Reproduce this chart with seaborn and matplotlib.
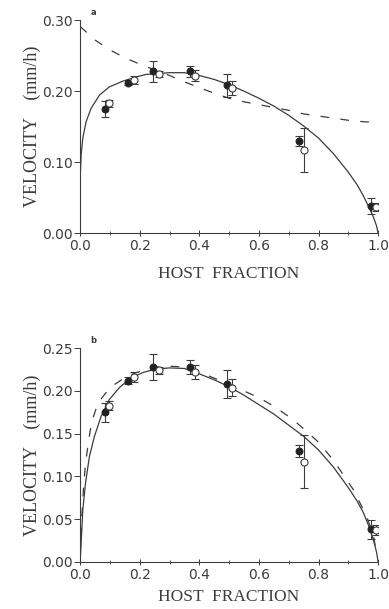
import numpy as np
import pandas as pd
import seaborn as sns
import matplotlib.pyplot as plt
from matplotlib.ticker import MultipleLocator

# measured points (same in both panels)
host_filled = [0.082, 0.162, 0.246, 0.369, 0.492, 0.735, 0.976]
vel_filled = [0.175, 0.212, 0.228, 0.228, 0.208, 0.130, 0.038]
err_filled = [0.011, 0.004, 0.015, 0.008, 0.016, 0.007, 0.011]

host_open = [0.098, 0.182, 0.266, 0.387, 0.508, 0.751, 0.994]
vel_open = [0.183, 0.216, 0.224, 0.222, 0.204, 0.117, 0.037]
err_open = [0.005, 0.006, 0.004, 0.008, 0.010, 0.031, 0.006]

# panel a curves
a_solid_x = [0, 0.0005, 0.0034, 0.009, 0.02, 0.037, 0.065, 0.098, 0.143, 0.188, 0.221,
             0.252, 0.3, 0.35, 0.4, 0.45, 0.5, 0.55, 0.6, 0.65, 0.7, 0.75, 0.8, 0.85,
             0.9, 0.93, 0.95, 0.97, 0.985, 0.995, 1.0]
a_solid_y = [0, 0.082, 0.110, 0.134, 0.157, 0.176, 0.1945, 0.206, 0.214, 0.220, 0.2235,
             0.2245, 0.226, 0.226, 0.222, 0.2165, 0.209, 0.200, 0.190, 0.179, 0.166,
             0.151, 0.134, 0.112, 0.086, 0.068, 0.053, 0.036, 0.022, 0.010, 0.0]
a_dash_x = [0.0, 0.05, 0.1, 0.15, 0.2, 0.25, 0.3, 0.35, 0.4, 0.45, 0.5, 0.55, 0.6,
            0.65, 0.7, 0.75, 0.8, 0.85, 0.9, 0.95, 0.99]
a_dash_y = [0.291, 0.272, 0.258, 0.247, 0.238, 0.230, 0.222, 0.213, 0.205, 0.197, 0.190,
            0.185, 0.181, 0.177, 0.173, 0.168, 0.165, 0.162, 0.159, 0.157, 0.156]

# panel b curves
b_solid_x = [0, 0.0034, 0.009, 0.018, 0.031, 0.048, 0.070, 0.098, 0.132, 0.165, 0.21,
             0.252, 0.3, 0.35, 0.4, 0.45, 0.5, 0.55, 0.6, 0.65, 0.7, 0.75, 0.8, 0.85,
             0.9, 0.93, 0.95, 0.97, 0.985, 0.995, 1.0]
b_solid_y = [0, 0.022, 0.061, 0.092, 0.123, 0.147, 0.170, 0.190, 0.204, 0.214, 0.2215,
             0.2255, 0.227, 0.2263, 0.220, 0.213, 0.205, 0.195, 0.184, 0.173, 0.160,
             0.147, 0.131, 0.111, 0.087, 0.071, 0.058, 0.041, 0.025, 0.011, 0.0]
b_dash_x = [0.003, 0.006, 0.012, 0.018, 0.025, 0.033, 0.04, 0.06, 0.1, 0.16, 0.21, 0.26,
            0.3, 0.35, 0.4, 0.45, 0.5, 0.55, 0.604, 0.66, 0.716, 0.761, 0.8, 0.85, 0.918,
            0.962, 0.985, 0.996]
b_dash_y = [0.03, 0.055, 0.09, 0.115, 0.133, 0.152, 0.165, 0.186, 0.204, 0.218, 0.224, 0.228,
            0.229, 0.228, 0.222, 0.215, 0.208, 0.200, 0.1915, 0.180, 0.166, 0.1525, 0.140,
            0.119, 0.084, 0.053, 0.030, 0.006]

INK = "#3c3c3c"

sns.set_style("ticks")
plt.rcParams["font.family"] = ["DejaVu Sans"]

fig = plt.figure(figsize=(3.89, 6.09), dpi=100)
ax_a = fig.add_axes([0.206, 0.617, 0.766, 0.350])
ax_b = fig.add_axes([0.206, 0.0772, 0.766, 0.351])


def draw_panel(ax, sx, sy, dx, dy, ymax, ystep, letter, xpad):
    sns.lineplot(x=sx, y=sy, ax=ax, color=INK, lw=0.9, estimator=None, sort=False)
    sns.lineplot(x=dx, y=dy, ax=ax, color=INK, lw=0.9, estimator=None, sort=False)
    ax.lines[-1].set_dashes([7, 9])
    ax.errorbar(host_filled, vel_filled, yerr=err_filled, fmt="none", ecolor=INK,
                elinewidth=0.8, capsize=3, capthick=0.8, zorder=3)
    ax.errorbar(host_open, vel_open, yerr=err_open, fmt="none", ecolor=INK,
                elinewidth=0.8, capsize=3, capthick=0.8, zorder=3)
    sns.scatterplot(x=host_filled, y=vel_filled, ax=ax, color="#222222", s=26,
                    edgecolor="#222222", linewidth=0.6, zorder=4)
    sns.scatterplot(x=host_open, y=vel_open, ax=ax, color="white", s=26,
                    edgecolor=INK, linewidth=0.8, zorder=4)

    ax.set_xlim(0, 1.0)
    ax.set_ylim(0, ymax)
    ax.xaxis.set_major_locator(MultipleLocator(0.2))
    ax.xaxis.set_minor_locator(MultipleLocator(0.1))
    ax.yaxis.set_major_locator(MultipleLocator(ystep))
    ax.xaxis.set_major_formatter(plt.FuncFormatter(lambda v, p: f"{v:.1f}"))
    ax.yaxis.set_major_formatter(plt.FuncFormatter(lambda v, p: f"{v:.2f}"))
    ax.tick_params(axis="x", direction="inout", length=5, width=0.7, colors=INK,
                   labelsize=10, pad=2)
    ax.tick_params(axis="x", which="minor", direction="inout", length=3, width=0.6,
                   colors=INK)
    ax.tick_params(axis="y", direction="out", length=4, width=0.7, colors=INK,
                   labelsize=10, pad=1)
    for s in ["left", "bottom"]:
        ax.spines[s].set_color(INK)
        ax.spines[s].set_linewidth(0.8)
    sns.despine(ax=ax)
    ax.set_xlabel("HOST  FRACTION", family="Liberation Serif", fontsize=12.5,
                  color=INK, labelpad=xpad)
    ax.set_ylabel("VELOCITY    (mm/h)", family="Liberation Serif", fontsize=13,
                  color=INK, labelpad=1)
    ax.text(0.035, 1.015, letter, transform=ax.transAxes, fontsize=6,
            fontweight="bold", color=INK, ha="left", va="bottom")


draw_panel(ax_a, a_solid_x, a_solid_y, a_dash_x, a_dash_y, 0.30, 0.10, "a", 9)
draw_panel(ax_b, b_solid_x, b_solid_y, b_dash_x, b_dash_y, 0.25, 0.05, "b", 5)

fig.savefig("out.png", dpi=100)
